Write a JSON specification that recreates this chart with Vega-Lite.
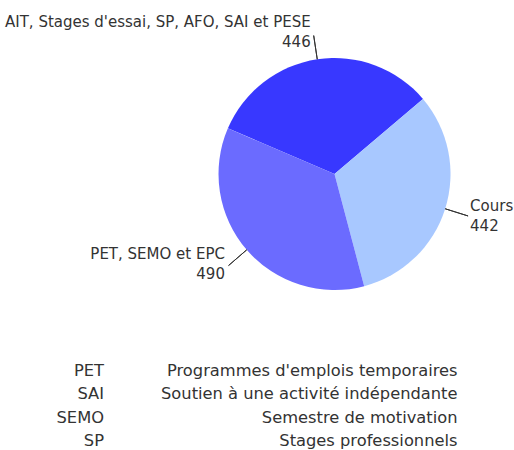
{
  "$schema": "https://vega.github.io/schema/vega-lite/v6.json",
  "padding": 0,
  "background": "white",
  "spacing": 15,
  "config": {
    "view": {"stroke": null},
    "text": {"font": "DejaVu Sans", "fontSize": 15, "color": "#333333"}
  },
  "datasets": {
    "slices": [
      {"cat": "AIT, Stages d'essai, SP, AFO, SAI et PESE", "n": 446},
      {"cat": "Cours", "n": 442},
      {"cat": "PET, SEMO et EPC", "n": 490}
    ],
    "terms": [
      {"abbr": "PET", "def": "Programmes d'emplois temporaires"},
      {"abbr": "SAI", "def": "Soutien à une activité indépendante"},
      {"abbr": "SEMO", "def": "Semestre de motivation"},
      {"abbr": "SP", "def": "Stages professionnels"}
    ]
  },
  "vconcat": [
    {
      "width": 514,
      "height": 348,
      "data": {"name": "slices"},
      "encoding": {
        "theta": {"field": "n", "type": "quantitative", "stack": true, "scale": {"range": [-1.166, 5.117]}},
        "order": {"field": "cat", "type": "nominal", "sort": "ascending"}
      },
      "layer": [
        {
          "mark": {"type": "arc", "radius": 116, "x": {"expr": "width * 0.6508"}},
          "encoding": {
            "color": {
              "field": "cat", "type": "nominal", "legend": null,
              "scale": {
                "domain": ["AIT, Stages d'essai, SP, AFO, SAI et PESE", "Cours", "PET, SEMO et EPC"],
                "range": ["#3838ff", "#a8c8ff", "#6b6bff"]
              }
            }
          }
        },
        {
          "mark": {"type": "arc", "radius": 140, "radius2": 116, "padAngle": 3.14, "x": {"expr": "width * 0.6508"}, "fill": "#333333", "stroke": "#333333", "strokeWidth": 1}
        },
        {
          "mark": {
            "type": "text", "radius": 140, "x": {"expr": "width * 0.6508"}, "baseline": "middle",
            "align": {"expr": "datum.cat == 'Cours' ? 'left' : 'right'"},
            "dx": {"expr": "datum.cat == 'Cours' ? 2 : (datum.cat == 'PET, SEMO et EPC' ? -3.6 : -3)"},
            "dy": {"expr": "datum.cat == 'Cours' ? -9.5 : (datum.cat == 'PET, SEMO et EPC' ? -11.6 : -13.3)"}
          },
          "encoding": {"text": {"field": "cat", "type": "nominal"}}
        },
        {
          "mark": {
            "type": "text", "radius": 140, "x": {"expr": "width * 0.6508"}, "baseline": "middle",
            "align": {"expr": "datum.cat == 'Cours' ? 'left' : 'right'"},
            "dx": {"expr": "datum.cat == 'Cours' ? 2 : (datum.cat == 'PET, SEMO et EPC' ? -3.6 : -3)"},
            "dy": {"expr": "datum.cat == 'Cours' ? 10 : (datum.cat == 'PET, SEMO et EPC' ? 8.4 : 6.3)"}
          },
          "encoding": {"text": {"field": "n", "type": "quantitative"}}
        }
      ]
    },
    {
      "width": 514,
      "height": 84,
      "data": {"name": "terms"},
      "transform": [{"fold": ["abbr", "def"], "as": ["col", "txt"]}],
      "mark": {"type": "text", "align": "right", "baseline": "middle", "fontSize": 16.3},
      "encoding": {
        "x": {"field": "col", "type": "nominal", "axis": null, "scale": {"type": "point", "padding": 0.227, "align": 0.648}},
        "y": {"field": "abbr", "type": "nominal", "sort": null, "axis": null, "scale": {"type": "point", "padding": 0.3}},
        "text": {"field": "txt", "type": "nominal"}
      }
    }
  ]
}
